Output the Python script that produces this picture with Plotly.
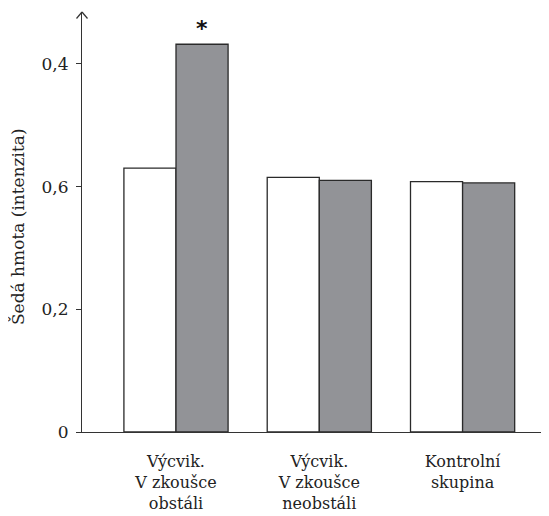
import plotly.graph_objects as go

categories = ["Výcvik.<br>V zkoušce<br>obstáli", "Výcvik.<br>V zkoušce<br>neobstáli", "Kontrolní<br>skupina"]
series_white = [0.430, 0.415, 0.408]
series_gray = [0.632, 0.410, 0.406]
tick_vals = [0, 0.2, 0.4, 0.6]
tick_text = ["0", "0,2", "0,6", "0,4"]
y_title = "Šedá hmota (intenzita)"
star_label = "*"

FONT = "DejaVu Serif"
FS = 17
ymax = 0.6846
xmin, xmax = -0.656, 2.603

fig = go.Figure()
fig.add_bar(x=categories, y=series_white, marker=dict(color="white", line=dict(color="#2a2a2a", width=1.3)),
            showlegend=False)
fig.add_bar(x=categories, y=series_gray, marker=dict(color="#929397", line=dict(color="#2a2a2a", width=1.3)),
            showlegend=False)

# page body adds an 8px offset; compensate so the figure lands where the reference has it
fig.update_layout(
    width=541, height=508,
    margin=dict(l=74, r=0, t=4, b=84),
    paper_bgcolor="white", plot_bgcolor="white",
    barmode="group", bargap=0.273, bargroupgap=0,
    font=dict(family=FONT, size=FS, color="#222"),
    xaxis=dict(type="category", range=[xmin, xmax], showline=True, linecolor="#333", linewidth=1.2,
               ticks="", showgrid=False, zeroline=False, ticklabelstandoff=15, automargin=False,
               tickfont=dict(family=FONT, size=16, color="#222")),
    yaxis=dict(range=[0, ymax], tickvals=tick_vals, ticktext=tick_text, showline=True,
               linecolor="#333", linewidth=1.2, ticks="outside", ticklen=5, tickcolor="#333",
               showgrid=False, zeroline=False, ticklabelstandoff=4, automargin=False,
               tickfont=dict(family=FONT, size=FS, color="#222")),
)

# y axis title
fig.add_annotation(x=0, y=0.488, xref="paper", yref="paper", xshift=-64, text=y_title, textangle=-90,
                   showarrow=False, xanchor="center", yanchor="middle",
                   font=dict(family=FONT, size=FS, color="#222"))

# open arrow head at top of y axis (paper-referenced so it is not clipped)
for dx in (-5.5, 5.5):
    fig.add_shape(type="line", xref="paper", yref="paper", xsizemode="pixel", ysizemode="pixel",
                  xanchor=0, yanchor=1, x0=0, y0=0, x1=dx, y1=-6.5,
                  line=dict(color="#333", width=1.2))

fig.add_annotation(x=categories[0], y=series_gray[0], xref="x", yref="y", text="<b>" + star_label + "</b>",
                   showarrow=False, xshift=26, yshift=16, font=dict(family="DejaVu Sans", size=22, color="#111"))

fig.write_html("out.html")
